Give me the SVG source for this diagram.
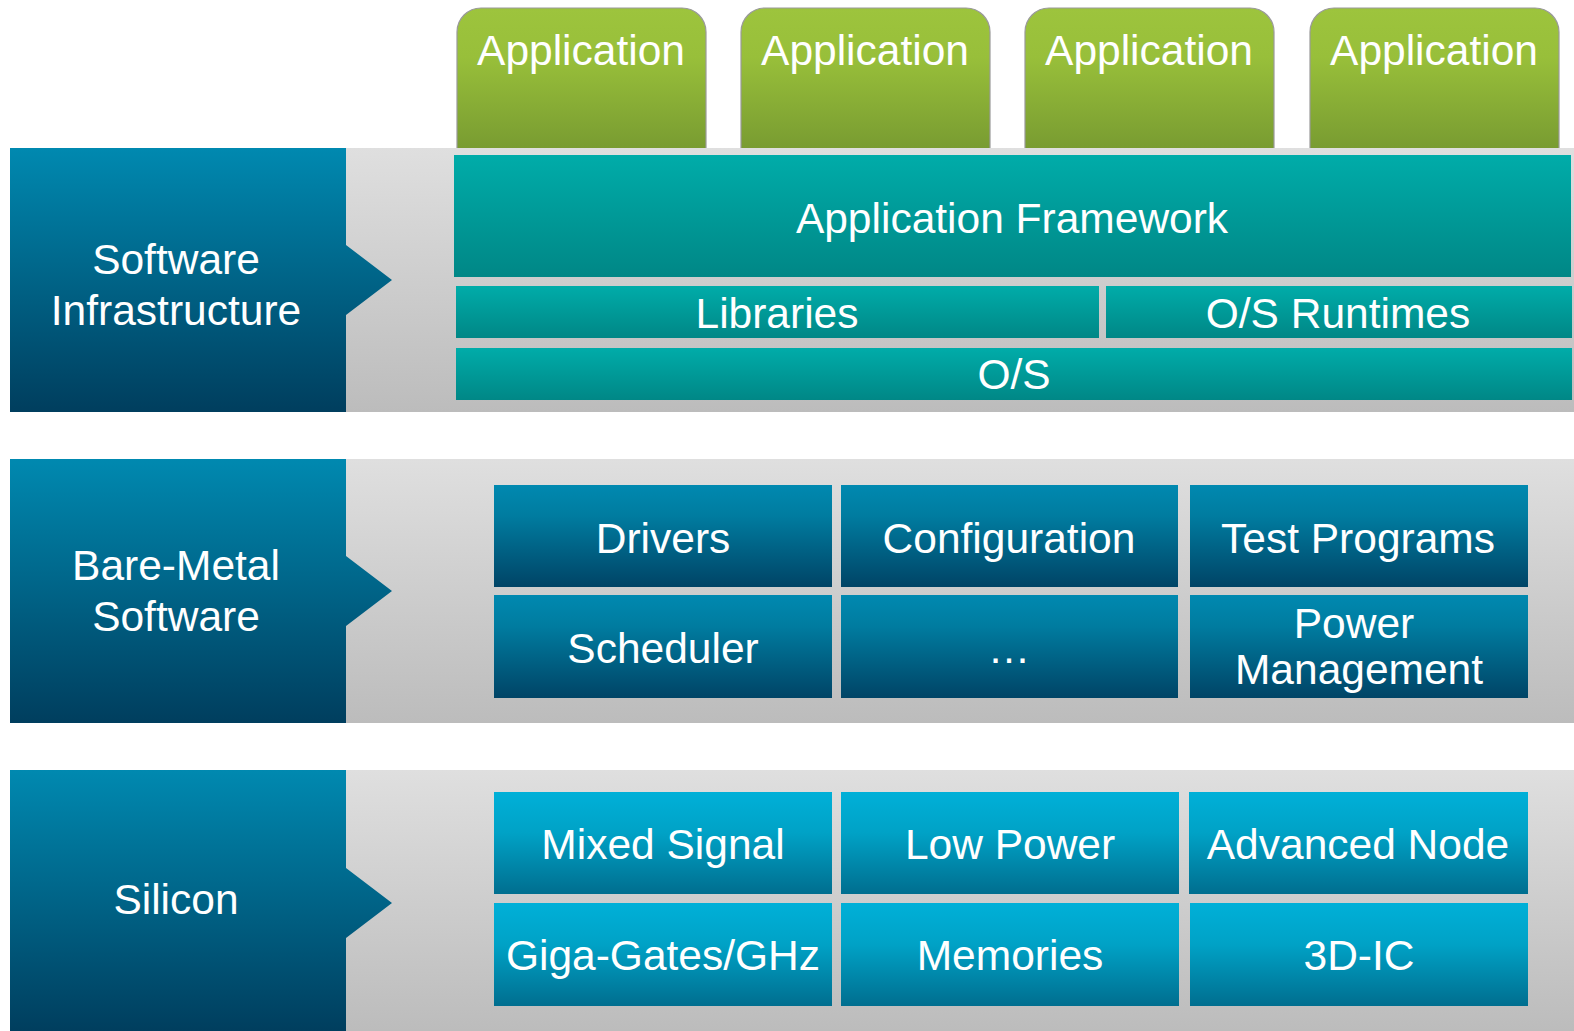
<svg xmlns="http://www.w3.org/2000/svg" width="1574" height="1031" viewBox="0 0 1574 1031">
<defs>
<linearGradient id="gGreen" x1="0" y1="0" x2="0" y2="1"><stop offset="0" stop-color="#9dc43d"/><stop offset="0.35" stop-color="#98bf3a"/><stop offset="1" stop-color="#789b31"/></linearGradient>
<linearGradient id="gGray" x1="0" y1="0" x2="0" y2="1"><stop offset="0" stop-color="#dfdfdf"/><stop offset="1" stop-color="#bcbcbc"/></linearGradient>
<linearGradient id="gLabel" x1="0" y1="0" x2="0" y2="1"><stop offset="0" stop-color="#0089b0"/><stop offset="1" stop-color="#003e5e"/></linearGradient>
<linearGradient id="gTeal" x1="0" y1="0" x2="0" y2="1"><stop offset="0" stop-color="#00aca9"/><stop offset="1" stop-color="#008786"/></linearGradient>
<linearGradient id="gBlue" x1="0" y1="0" x2="0" y2="1"><stop offset="0" stop-color="#0089b0"/><stop offset="0.3" stop-color="#007ca0"/><stop offset="1" stop-color="#004466"/></linearGradient>
<linearGradient id="gCyan" x1="0" y1="0" x2="0" y2="1"><stop offset="0" stop-color="#00b0d8"/><stop offset="0.4" stop-color="#00a2c6"/><stop offset="1" stop-color="#006e8f"/></linearGradient>
</defs>
<style>
text{font-family:"Liberation Sans",Arial,sans-serif;font-size:42.5px;fill:#ffffff;text-anchor:middle}
.band{fill:url(#gGray)}
.label{fill:url(#gLabel)}
.app{fill:url(#gGreen);stroke:#9a9a9a;stroke-width:1.2}
.teal{fill:url(#gTeal)}
.blue{fill:url(#gBlue)}
.cyan{fill:url(#gCyan)}
</style>
<rect width="1574" height="1031" fill="#ffffff"/>
<g id="apps">
<g id="app1"><path class="app" d="M457,150 V32 A24,24 0 0 1 481,8 H682 A24,24 0 0 1 706,32 V150 Z"/><text x="581" y="65">Application</text></g>
<g id="app2"><path class="app" d="M741,150 V32 A24,24 0 0 1 765,8 H966 A24,24 0 0 1 990,32 V150 Z"/><text x="865" y="65">Application</text></g>
<g id="app3"><path class="app" d="M1025,150 V32 A24,24 0 0 1 1049,8 H1250 A24,24 0 0 1 1274,32 V150 Z"/><text x="1149" y="65">Application</text></g>
<g id="app4"><path class="app" d="M1310,150 V32 A24,24 0 0 1 1334,8 H1535 A24,24 0 0 1 1559,32 V150 Z"/><text x="1434" y="65">Application</text></g>
</g>
<g id="bands">
<rect class="band" x="10" y="148" width="1564" height="264"/>
<rect class="band" x="10" y="459" width="1564" height="264"/>
<rect class="band" x="10" y="770" width="1564" height="261"/>
</g>
<g id="label-software">
<path class="label" d="M10,148 H346 V245 L392,280 L346,315 V412 H10 Z"/>
<text x="176" y="274">Software</text><text x="176" y="325">Infrastructure</text>
</g>
<g id="label-baremetal">
<path class="label" d="M10,459 H346 V556 L392,591 L346,626 V723 H10 Z"/>
<text x="176" y="580">Bare-Metal</text><text x="176" y="631">Software</text>
</g>
<g id="label-silicon">
<path class="label" d="M10,770 H346 V868 L392,903 L346,938 V1031 H10 Z"/>
<text x="176" y="914">Silicon</text>
</g>
<g id="n-framework"><rect class="teal" x="454" y="155" width="1117" height="122"/><text x="1012" y="233">Application Framework</text></g>
<g id="n-libraries"><rect class="teal" x="456" y="286" width="643" height="52"/><text x="777" y="328">Libraries</text></g>
<g id="n-runtimes"><rect class="teal" x="1106" y="286" width="466" height="52"/><text x="1338" y="328">O/S Runtimes</text></g>
<g id="n-os"><rect class="teal" x="456" y="348" width="1116" height="52"/><text x="1014" y="389">O/S</text></g>
<g id="n-drivers"><rect class="blue" x="494" y="485" width="338" height="102"/><text x="663" y="553">Drivers</text></g>
<g id="n-config"><rect class="blue" x="841" y="485" width="337" height="102"/><text x="1009" y="553">Configuration</text></g>
<g id="n-test"><rect class="blue" x="1190" y="485" width="338" height="102"/><text x="1358" y="553">Test Programs</text></g>
<g id="n-scheduler"><rect class="blue" x="494" y="595" width="338" height="103"/><text x="663" y="663">Scheduler</text></g>
<g id="n-ellipsis"><rect class="blue" x="841" y="595" width="337" height="103"/><text x="1009" y="663">…</text></g>
<g id="n-power"><rect class="blue" x="1190" y="595" width="338" height="103"/><text x="1354" y="638">Power</text><text x="1359" y="684">Management</text></g>
<g id="n-mixed"><rect class="cyan" x="494" y="792" width="338" height="102"/><text x="663" y="859">Mixed Signal</text></g>
<g id="n-lowpower"><rect class="cyan" x="841" y="792" width="338" height="102"/><text x="1010" y="859">Low Power</text></g>
<g id="n-advanced"><rect class="cyan" x="1189" y="792" width="339" height="102"/><text x="1358" y="859">Advanced Node</text></g>
<g id="n-giga"><rect class="cyan" x="494" y="903" width="338" height="103"/><text x="663" y="970">Giga-Gates/GHz</text></g>
<g id="n-memories"><rect class="cyan" x="841" y="903" width="338" height="103"/><text x="1010" y="970">Memories</text></g>
<g id="n-3dic"><rect class="cyan" x="1190" y="903" width="338" height="103"/><text x="1359" y="970">3D-IC</text></g>
<g id="connectors"/>
</svg>
